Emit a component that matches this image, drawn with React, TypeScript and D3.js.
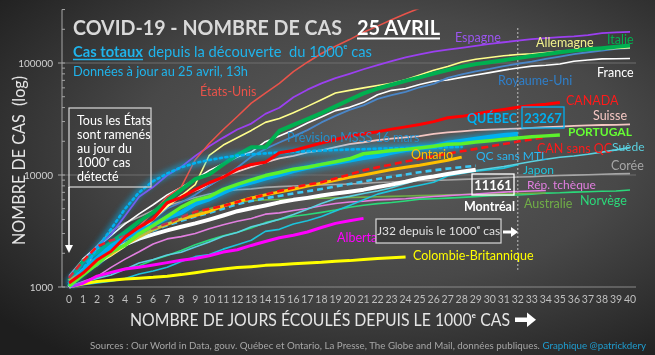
import React from "react";
import * as d3 from "d3";

// ---------- DATA ----------
const DAYS = d3.range(0, 41);
const Y_TICKS = [1000, 10000, 100000];

const ETATS_UNIS = [1000, 1281, 1663, 2179, 2726, 3499, 4632, 6421, 7786, 13680, 19101, 25493, 33276, 43847, 53740, 65778, 83836, 101657, 121478, 140886, 161807, 188172, 213372, 243762, 275586, 308853];
const ESPAGNE = [1231, 1695, 2277, 2950, 4334, 6391, 7798, 9942, 11826, 14769, 18077, 21571, 25496, 28768, 35136, 39885, 49515, 57786, 65719, 73235, 80110, 87956, 95923, 104118, 112065, 119199, 126168, 131646, 136675, 141942, 148220, 153222, 158273, 163027, 166831, 170099, 172541, 177644, 184948, 187500, 190000];
const ITALIE = [1128, 1694, 2036, 2502, 3089, 3858, 4636, 5883, 7375, 9172, 10149, 12462, 15113, 17660, 17660, 24747, 27980, 31506, 35713, 41035, 47021, 53578, 59138, 63927, 69176, 74386, 80539, 86498, 92472, 97689, 101739, 105792, 110574, 115242, 119827, 124632, 128948, 132547, 135586, 139422, 143626];
const ALLEMAGNE = [1100, 1300, 1600, 1900, 2300, 3000, 4000, 5200, 6500, 8200, 15000, 18500, 21500, 25000, 29500, 32000, 36000, 41000, 47000, 54000, 57000, 60000, 63000, 66000, 71000, 78000, 86000, 93000, 102000, 108000, 112000, 116000, 119000, 121000, 124000, 127000, 129000, 131000, 133000, 135000, 137000];
const ROYAUME_UNI = [1140, 1391, 1543, 1950, 2626, 3269, 3983, 5018, 5683, 6650, 8077, 9529, 11658, 14543, 17089, 19522, 22141, 25150, 29474, 33718, 38168, 41903, 47806, 51608, 55242, 60733, 65077, 73758, 78991, 84279, 88621, 93873, 98476, 103093, 108692, 114217, 120067, 124743, 129044, 133495, 136000];
const FRANCE = [1100, 1784, 2281, 2876, 3661, 4499, 5423, 6633, 7730, 9134, 10995, 12612, 14459, 16018, 19856, 22302, 25233, 29155, 32964, 37575, 40174, 44550, 52128, 56989, 59105, 64338, 68605, 70478, 74390, 78167, 82048, 86334, 90276, 93790, 95403, 98076, 103573, 106206, 108847, 109252, 109800];
const SUISSE = [1139, 1359, 2200, 2200, 2650, 3010, 4075, 5294, 6575, 7245, 8060, 9765, 10714, 11811, 12928, 14076, 14829, 15922, 16605, 17768, 18827, 19606, 20505, 21100, 21657, 22253, 23280, 24051, 24551, 25107, 25415, 25688, 25936, 26336, 26732, 27078, 27404, 27740, 27944, 28063, 28268];
const CANADA = [1087, 1331, 1739, 2088, 2790, 3409, 4043, 5655, 6320, 7398, 8527, 9560, 11284, 12437, 12978, 15822, 16563, 17872, 19291, 20765, 22148, 23318, 24299, 25680, 26897, 28209, 29977, 32412, 33383, 35056, 36829, 38422, 40179, 41663, 42750, 44355];
const PORTUGAL = [1020, 1280, 1600, 2060, 2362, 2995, 3544, 4268, 5170, 5962, 6408, 7443, 8251, 9034, 9886, 10524, 11278, 11730, 12442, 13141, 13956, 15472, 15987, 16585, 16934, 17448, 18091, 18841, 19022, 19685, 20206, 20863, 21379, 21982, 22353, 22797];
const SUEDE = [1022, 1103, 1190, 1279, 1439, 1639, 1763, 1934, 2046, 2272, 2526, 2840, 3069, 3447, 3700, 4028, 4435, 4947, 5568, 6131, 6443, 6830, 7206, 7693, 8419, 9141, 9685, 10151, 10483, 10948, 11445, 11927, 12540, 13216, 13822, 14385, 14777, 15322, 16004, 16755, 17567];
const COREE = [1261, 1766, 2337, 3150, 3736, 4212, 4812, 5328, 5766, 6284, 6767, 7134, 7382, 7513, 7755, 7869, 7979, 8086, 8162, 8236, 8320, 8413, 8565, 8652, 8799, 8897, 8961, 9037, 9137, 9241, 9332, 9478, 9583, 9661, 9786, 9887, 9976, 10062, 10156, 10237, 10284];
const JAPON = [1007, 1046, 1089, 1128, 1193, 1307, 1387, 1499, 1693, 1866, 1953, 2178, 2381, 2617, 3139, 3271, 3654, 3906, 4257, 4768, 5347, 6005, 6748, 7255, 7645, 8100, 8626, 9787, 10296, 10797, 11135, 11512, 12368];
const REP_TCHEQUE = [1000, 1120, 1236, 1497, 1775, 2062, 2422, 2689, 2817, 3001, 3308, 3589, 3858, 4091, 4472, 4587, 4822, 5017, 5312, 5569, 5732, 5831, 5991, 6059, 6141, 6303, 6433, 6549, 6654, 6746, 6900, 7033, 7132, 7187, 7273];
const NORVEGE = [1000, 1090, 1221, 1333, 1463, 1550, 1746, 1914, 2118, 2385, 2621, 2863, 3084, 3369, 3755, 4015, 4284, 4445, 4641, 4863, 5147, 5370, 5550, 5687, 5865, 6086, 6130, 6211, 6314, 6409, 6525, 6603, 6623, 6740, 6896, 6937, 7036, 7078, 7156, 7191, 7338];
const AUSTRALIE = [1000, 1700, 1750, 2100, 2500, 2900, 3300, 3700, 4100, 4500, 5000, 5400, 5700, 5900, 6000, 6050, 6100, 6150, 6200, 6250, 6300, 6350, 6400, 6450, 6500, 6550, 6600, 6650, 6700, 6750, 6780, 6810, 6840, 6870, 6900];
const ALBERTA = [1000, 1080, 1250, 1350, 1450, 1500, 1570, 1650, 1730, 1800, 1900, 2050, 2150, 2350, 2550, 2750, 2900, 3100, 3400, 3700, 3900, 4100];
const COLOMBIE_BRITANNIQUE = [1000, 1070, 1120, 1150, 1180, 1200, 1220, 1250, 1290, 1340, 1400, 1450, 1490, 1520, 1560, 1580, 1610, 1640, 1660, 1700, 1720, 1760, 1800, 1820, 1850];
const ONTARIO = [1144, 1355, 1706, 1966, 2392, 2793, 3255, 3630, 4038, 4347, 4726, 5276, 5759, 6237, 6648, 7049, 7470, 7953, 8447, 8961, 9525, 10010, 10578, 11184, 11735, 12245, 12879, 13519, 14432];
const MONTREAL = [1000, 1400, 1750, 2050, 2400, 2700, 2950, 3200, 3450, 3700, 4000, 4350, 4750, 5050, 5350, 5700, 6000, 6250, 6550, 6850, 7100, 7400, 7800, 8200, 8700, 9300, 9700, 10200, 10700, 11161];
const QC_SANS_MTL = [1050, 1350, 1700, 2050, 2450, 2850, 3200, 3550, 3900, 4250, 4600, 5000, 5500, 5850, 6200, 6500, 6850, 7150, 7500, 7900, 8300, 8750, 9200, 9650, 10100, 10600, 11000, 11400, 11750, 12106];
const QUEBEC = [1013, 1400, 1800, 2300, 2750, 3100, 3600, 4162, 4611, 5518, 6101, 6997, 7944, 8580, 9340, 10031, 10912, 11677, 12292, 12846, 13557, 14248, 14860, 15857, 16798, 17521, 17950, 19319, 20126, 20965, 21838, 22616, 23267];
const CAN_SANS_QC = [1200, 1700, 2300, 2600, 2850, 3100, 3350, 3700, 4200, 4700, 5000, 5300, 5750, 6200, 6700, 7200, 7700, 8200, 8600, 9300, 10100, 11000, 11700, 12400, 13200, 13900, 14700, 15500, 16300, 17100, 18000, 18900, 19900, 20800, 21800];
const PREVISION_MSSS = [1100, 1450, 2200, 3300, 5000, 7000, 8800, 10300, 11700, 12800, 13600, 14300, 14900, 15300, 15600, 15900, 16100, 16300, 16500, 16700, 16900, 17000, 17200, 17300, 17400, 17500, 17600, 17700, 17800];

// ---------- STYLES (drawing order, bottom to top) ----------
type Style = { values: number[]; color: string; width: number; dash?: string; glow?: boolean; cap?: string };
const SERIES: Style[] = [
  { values: COREE, color: "#a6a6a6", width: 1.6 },
  { values: NORVEGE, color: "#2bd97a", width: 1.6 },
  { values: AUSTRALIE, color: "#70ad47", width: 1.6 },
  { values: REP_TCHEQUE, color: "#e27fe0", width: 1.6 },
  { values: JAPON, color: "#1cc4dc", width: 1.6 },
  { values: SUEDE, color: "#5ad1e0", width: 1.6 },
  { values: SUISSE, color: "#f4c7c3", width: 1.8 },
  { values: FRANCE, color: "#ffffff", width: 1.6 },
  { values: ROYAUME_UNI, color: "#4a86c8", width: 1.8 },
  { values: ALLEMAGNE, color: "#ffff8c", width: 1.6 },
  { values: ESPAGNE, color: "#9b40f0", width: 1.8 },
  { values: ETATS_UNIS, color: "#e8534a", width: 1.6 },
  { values: ITALIE, color: "#00b050", width: 4 },
  { values: COLOMBIE_BRITANNIQUE, color: "#ffff00", width: 3 },
  { values: ALBERTA, color: "#ff00ff", width: 3 },
  { values: PREVISION_MSSS, color: "#00b0f0", width: 2.6, dash: "2,3.5", glow: true, cap: "round" },
  { values: MONTREAL, color: "#ffffff", width: 4 },
  { values: QC_SANS_MTL, color: "#3cc8f5", width: 2.6, dash: "6,4" },
  { values: ONTARIO, color: "#ffc000", width: 3 },
  { values: CAN_SANS_QC, color: "#ff1010", width: 2.6, dash: "7,4" },
  { values: QUEBEC, color: "#00b0f0", width: 4.5, glow: true },
  { values: PORTUGAL, color: "#5cf02c", width: 3.5 },
  { values: CANADA, color: "#ff0000", width: 3 },
];

type Lab = { text: string; x: number; y: number; color: string; bold?: boolean; size?: number; opacity?: number };
const LABELS: Lab[] = [
  { text: "États-Unis", x: 200, y: 92, color: "#e8534a" },
  { text: "Espagne", x: 455, y: 38, color: "#9b55ee" },
  { text: "Allemagne", x: 536, y: 43, color: "#f2f28c" },
  { text: "Italie", x: 607, y: 40, color: "#00b050" },
  { text: "France", x: 597, y: 73, color: "#ffffff" },
  { text: "Royaume-Uni", x: 498, y: 81, color: "#2f7fc9" },
  { text: "CANADA", x: 566, y: 101, color: "#ff1a1a" },
  { text: "QUÉBEC", x: 467, y: 119, color: "#00b0f0", bold: true, size: 12.5 },
  { text: "Suisse", x: 593, y: 116, color: "#f4c7c3" },
  { text: "PORTUGAL", x: 568, y: 132, color: "#66ff33", bold: true, size: 12 },
  { text: "Suède", x: 612, y: 146.5, color: "#5ad1e0", size: 12 },
  { text: "CAN sans QC", x: 537, y: 149, color: "#ff1a1a" },
  { text: "Ontario", x: 411, y: 155, color: "#ffc000" },
  { text: "QC sans MTL", x: 476, y: 155.5, color: "#29b6f0", size: 12 },
  { text: "Corée", x: 611, y: 166, color: "#a6a6a6" },
  { text: "Japon", x: 523, y: 170, color: "#1cc4dc", size: 12 },
  { text: "Rép. tchèque", x: 527, y: 184.5, color: "#e27fe0", size: 12 },
  { text: "Norvège", x: 580, y: 201, color: "#2bd97a" },
  { text: "Australie", x: 524, y: 204, color: "#70ad47" },
  { text: "Montréal", x: 464, y: 207, color: "#ffffff", bold: true },
  { text: "Alberta", x: 337, y: 238, color: "#ff00ff" },
  { text: "Colombie-Britannique", x: 413, y: 256, color: "#ffff00" },
  { text: "Prévision MSSS 16 mars", x: 287, y: 138, color: "#1f95d6", opacity: 0.9 },
];

const FONT = "Lato, 'Open Sans', sans-serif";
const W = 655;
const H = 355;

export default function App() {
  const x = d3.scaleLinear().domain([0, 40]).range([69, 630]);
  const y = d3.scaleLog().domain([1000, 300000]).range([287, 287 - 112 * Math.log10(300)]);
  const line = d3
    .line<number>()
    .x((_, i) => x(i))
    .y((d) => y(d));

  const minor: number[] = [];
  for (let p = 3; p <= 5; p++) {
    for (let k = 2; k <= 9; k++) {
      const v = k * Math.pow(10, p);
      if (v <= 300000) minor.push(v);
    }
  }

  return (
    <div style={{ position: "fixed", left: 0, top: 0 }}>
      <svg width={W} height={H} style={{ display: "block" }} fontFamily={FONT}>
        <defs>
          <radialGradient id="bg" cx="0.58" cy="0.42" r="0.75">
            <stop offset="0" stopColor="#5c5c5c" />
            <stop offset="0.5" stopColor="#484848" />
            <stop offset="1" stopColor="#1e1e1e" />
          </radialGradient>
          <filter id="glow" x="-10%" y="-50%" width="120%" height="200%">
            <feGaussianBlur stdDeviation="2.5" />
          </filter>
          <clipPath id="plot">
            <rect x={62} y={9.5} width={580} height={280} />
          </clipPath>
        </defs>
        <rect x={0} y={0} width={W} height={H} fill="url(#bg)" />

        {/* grid */}
        {Y_TICKS.map((t) => (
          <line key={t} x1={62} x2={636} y1={y(t)} y2={y(t)} stroke={t === 1000 ? "#8a8a8a" : "#6e6e6e"} strokeWidth={1} />
        ))}
        {/* y axis */}
        <line x1={62} x2={62} y1={9.5} y2={287} stroke="#a6a6a6" strokeWidth={1} />
        {minor.map((m) => (
          <line key={m} x1={62} x2={65} y1={y(m)} y2={y(m)} stroke="#a6a6a6" strokeWidth={1} />
        ))}
        {Y_TICKS.map((t) => (
          <g key={"l" + t}>
            <line x1={58} x2={65} y1={y(t)} y2={y(t)} stroke="#a6a6a6" strokeWidth={1} />
            <text x={53} y={y(t) + 3.5} textAnchor="end" fontSize={10} fill="#d0d0d0">
              {t}
            </text>
          </g>
        ))}
        {DAYS.map((d) => (
          <text key={d} x={x(d)} y={303} textAnchor="middle" fontSize={10.5} fill="#bfbfbf">
            {d}
          </text>
        ))}

        {/* J32 vertical */}
        <line x1={x(32)} x2={x(32)} y1={28} y2={272} stroke="#bfbfbf" strokeWidth={1} strokeDasharray="2,2" />

        {/* series */}
        <g clipPath="url(#plot)">
          {SERIES.map((s, i) => (
            <g key={i}>
              {s.glow && (
                <path
                  d={line(s.values) || ""}
                  fill="none"
                  stroke={s.color}
                  strokeWidth={s.width + 5}
                  opacity={0.5}
                  filter="url(#glow)"
                />
              )}
              <path
                d={line(s.values) || ""}
                fill="none"
                stroke={s.color}
                strokeWidth={s.width}
                strokeDasharray={s.dash}
                strokeLinecap={(s.cap as any) || "butt"}
                strokeLinejoin="round"
              />
            </g>
          ))}
        </g>

        {/* series labels */}
        {LABELS.map((l) => (
          <text
            key={l.text}
            x={l.x}
            y={l.y + 4.3}
            fontSize={l.size || 12.5}
            fontWeight={l.bold ? 700 : 400}
            fill={l.color}
            opacity={l.opacity || 1}
          >
            {l.text}
          </text>
        ))}

        {/* value boxes */}
        <rect x={522} y={107} width={42} height={21} fill="none" stroke="#00b0f0" strokeWidth={1.3} />
        <text x={543} y={122.5} textAnchor="middle" fontSize={13} fontWeight={700} fill="#00b0f0">
          23267
        </text>
        <rect x={472} y={174} width={42} height={21} fill="none" stroke="#ffffff" strokeWidth={1.3} />
        <text x={493} y={189.5} textAnchor="middle" fontSize={13} fontWeight={700} fill="#ffffff">
          11161
        </text>

        {/* J32 box */}
        <rect x={376} y={219} width={125} height={24} fill="#3b3b3b" stroke="#d9d9d9" strokeWidth={1.2} />
        <text x={438.5} y={235} textAnchor="middle" fontSize={12} fill="#e0e0e0">
          {"J32 depuis le 1000ᵉ cas"}
        </text>
        <line x1={503} x2={512} y1={232} y2={232} stroke="#ffffff" strokeWidth={3} />
        <path d="M511,227 L518,232 L511,237 Z" fill="#ffffff" />

        {/* left box */}
        <rect x={69} y={108} width={82} height={79} fill="none" stroke="#d9d9d9" strokeWidth={1.2} />
        {["Tous les États", "sont ramenés", "au jour du", "1000ᵉ cas", "détecté"].map((t, i) => (
          <text key={t} x={77} y={124.5 + i * 14.2} fontSize={12.5} fill="#ffffff">
            {t}
          </text>
        ))}
        <line x1={69} x2={69} y1={187} y2={246} stroke="#ffffff" strokeWidth={1.5} />
        <path d="M65,245 L73,245 L69,253 Z" fill="#ffffff" />

        {/* title */}
        <text x={73} y={35} fontSize={20} fontWeight={700} fill="#d9d9d9" textLength={269} lengthAdjust="spacingAndGlyphs">
          COVID-19 - NOMBRE DE CAS
        </text>
        <text x={357} y={35} fontSize={20} fontWeight={700} fill="#ffffff" textLength={83} lengthAdjust="spacingAndGlyphs">
          25 AVRIL
        </text>
        <line x1={357} x2={440} y1={38.5} y2={38.5} stroke="#ffffff" strokeWidth={2} />

        <text x={73} y={57} fontSize={16} fontWeight={700} fill="#1fb4ec" textLength={70} lengthAdjust="spacingAndGlyphs">
          Cas totaux
        </text>
        <line x1={73} x2={143} y1={59.5} y2={59.5} stroke="#1fb4ec" strokeWidth={1.5} />
        <text x={148} y={57} fontSize={16} fill="#1fb4ec" textLength={224} lengthAdjust="spacingAndGlyphs">
          {"depuis la découverte\u00a0 du 1000ᵉ cas"}
        </text>
        <text x={73} y={76} fontSize={13.5} fill="#1fb4ec" textLength={175} lengthAdjust="spacingAndGlyphs">
          Données à jour au 25 avril, 13h
        </text>

        {/* axis titles */}
        <text
          transform="translate(25,160.5) rotate(-90)"
          textAnchor="middle"
          fontSize={17}
          fill="#e6e6e6"
          textLength={169}
          lengthAdjust="spacingAndGlyphs"
        >
          {"NOMBRE DE CAS\u00a0 (log)"}
        </text>
        <text x={130} y={326} fontSize={17} fill="#e6e6e6" textLength={380} lengthAdjust="spacingAndGlyphs">
          {"NOMBRE DE JOURS ÉCOULÉS DEPUIS LE 1000ᵉ CAS"}
        </text>
        <rect x={515} y={317.5} width={13} height={4.5} fill="#ffffff" />
        <path d="M527,312.5 L536,319.75 L527,327 Z" fill="#ffffff" />

        {/* sources */}
        <text x={90} y={348.5} fontSize={10} fill="#a6a6a6" textLength={556} lengthAdjust="spacingAndGlyphs">
          Sources : Our World in Data, gouv. Québec et Ontario, La Presse, The Globe and Mail, données publiques.{" "}
          <tspan fill="#1f9ed1">Graphique @patrickdery</tspan>
        </text>
      </svg>
    </div>
  );
}
